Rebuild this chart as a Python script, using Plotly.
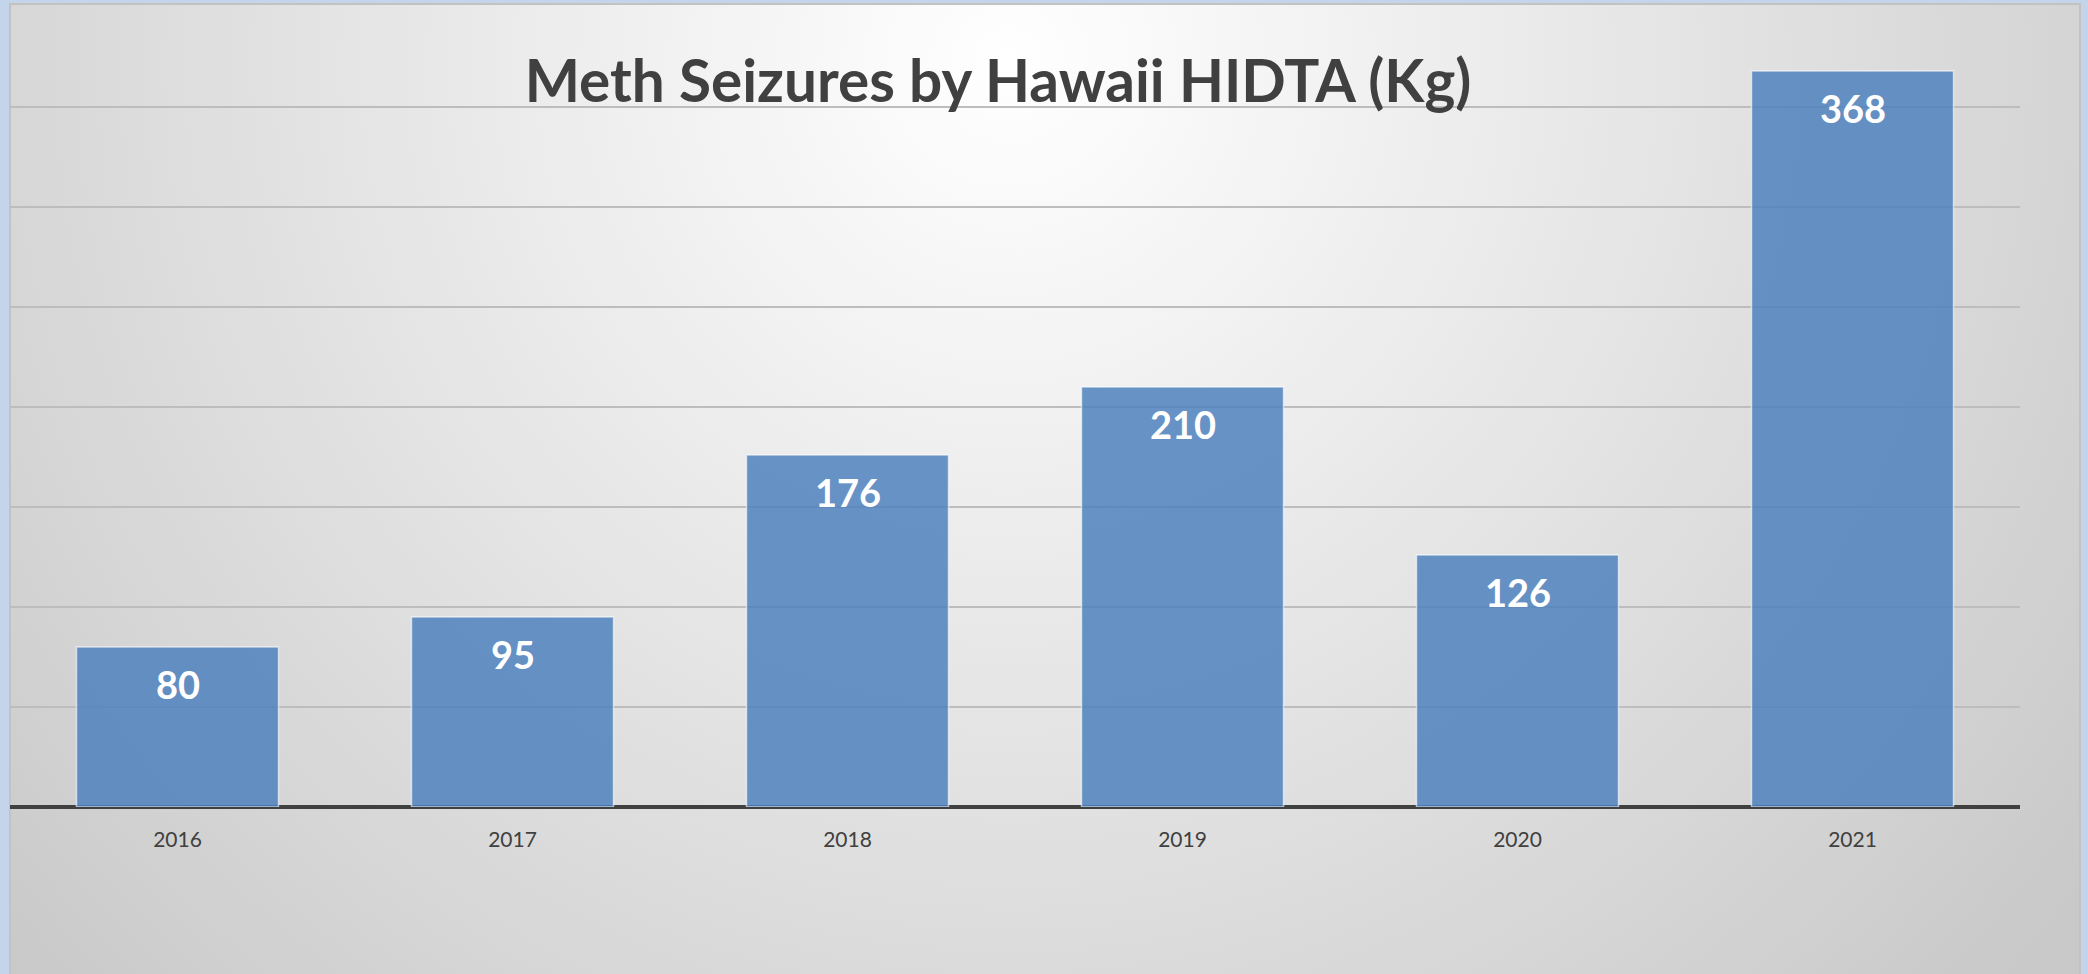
import plotly.graph_objects as go
import urllib.parse

years = ["2016", "2017", "2018", "2019", "2020", "2021"]
seizures_kg = [80, 95, 176, 210, 126, 368]
title_text = "Meth Seizures by Hawaii HIDTA (Kg)"

W, H = 2088, 974
L, R, T, B = 10, 68, 7, 167
pw, ph = W - L - R, H - T - B

svg = (
    "<svg xmlns='http://www.w3.org/2000/svg' width='2072' height='971' viewBox='0 0 2072 971' preserveAspectRatio='none'>"
    "<defs><radialGradient id='g' gradientUnits='userSpaceOnUse' cx='1000' cy='60' r='1350'>"
    "<stop offset='0' stop-color='#ffffff'/><stop offset='0.5' stop-color='#e4e4e4'/>"
    "<stop offset='1' stop-color='#c9c9c9'/></radialGradient></defs>"
    "<rect x='0' y='0' width='2072' height='971' fill='url(#g)'/>"
    "<rect x='1' y='1' width='2070' height='975' fill='none' stroke='#c2c2c2' stroke-width='2'/>"
    "</svg>"
)
bg_uri = "data:image/svg+xml;charset=utf-8," + urllib.parse.quote(svg)

fig = go.Figure()
fig.add_trace(go.Bar(
    x=years, y=seizures_kg,
    marker=dict(color="rgba(79,129,189,0.85)", line=dict(color="rgba(255,255,255,0.6)", width=1.5)),
    hoverinfo="skip",
))

for i, v in enumerate(seizures_kg):
    fig.add_annotation(x=i, y=v, xref="x", yref="y", text=str(v), showarrow=False,
                       yanchor="middle", yshift=-37,
                       font=dict(family="Lato", size=38, color="white", weight="bold"))

fig.update_layout(
    width=W, height=H,
    margin=dict(l=L, r=R, t=T, b=B),
    paper_bgcolor="#c4d4eb",
    plot_bgcolor="rgba(0,0,0,0)",
    bargap=0.397,
    showlegend=False,
    title=dict(text=title_text, xref="paper", x=(998 - L) / pw, xanchor="center",
               yref="container", y=1 - 82 / H, yanchor="middle",
               font=dict(family="Lato", size=58.5, color="#404040", weight="bold")),
    images=[dict(source=bg_uri, xref="paper", yref="paper",
                 x=(9 - L) / pw, y=1 + (T - 3) / ph,
                 sizex=2072 / pw, sizey=971 / ph,
                 xanchor="left", yanchor="top", sizing="stretch", layer="below")],
    xaxis=dict(type="category", range=[-0.5, len(years) - 0.5], automargin=False,
               showgrid=False, showline=False, ticks="", ticklabelstandoff=18,
               tickfont=dict(family="Lato", size=21, color="#404040")),
    yaxis=dict(range=[0, 400], dtick=50, showticklabels=False, showgrid=True, automargin=False,
               gridcolor="#bdbdbd", gridwidth=2, zeroline=True, zerolinecolor="#404040",
               zerolinewidth=4, showline=False),
)

fig.write_html("out.html", config={"displayModeBar": False},
               post_script="document.body.style.margin='0';document.body.style.overflow='hidden';")
